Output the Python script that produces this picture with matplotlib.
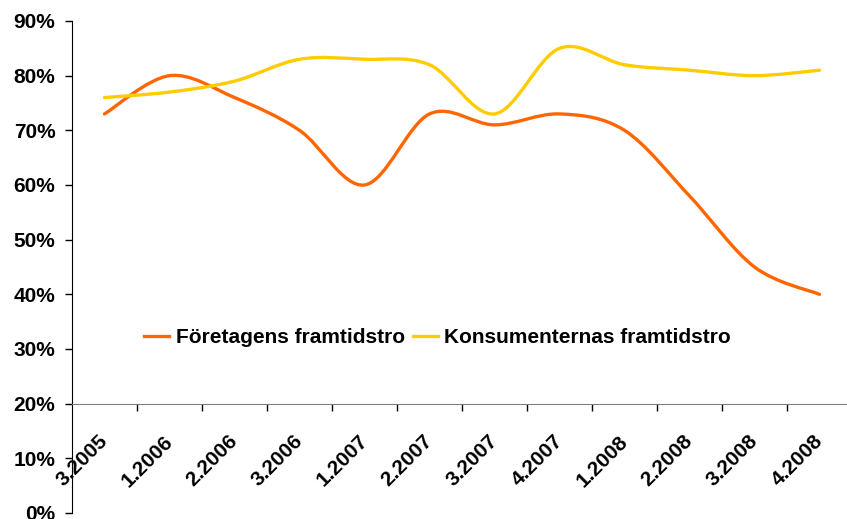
import matplotlib
matplotlib.use("Agg")
import matplotlib.pyplot as plt
from matplotlib.path import Path
from matplotlib.patches import PathPatch
from matplotlib.lines import Line2D

# quarters shown on the category axis
quarters = ["3.2005", "1.2006", "2.2006", "3.2006", "1.2007", "2.2007",
            "3.2007", "4.2007", "1.2008", "2.2008", "3.2008", "4.2008"]
# confidence in the future [share]
foretag = [0.73, 0.80, 0.76, 0.70, 0.60, 0.73, 0.71, 0.73, 0.70, 0.58, 0.45, 0.40]
konsument = [0.76, 0.77, 0.79, 0.83, 0.83, 0.82, 0.73, 0.85, 0.82, 0.81, 0.80, 0.81]
yticks = [0, 0.1, 0.2, 0.3, 0.4, 0.5, 0.6, 0.7, 0.8, 0.9]

orange = "#FF6600"
yellow = "#FFCC00"
plt.rcParams["font.family"] = ["Liberation Sans", "DejaVu Sans"]
plt.rcParams["font.weight"] = "bold"


def smooth_path(xs, ys):
    # Excel-like smoothed line: Catmull-Rom segments as cubic Bezier curves
    pts = list(zip(xs, ys))
    n = len(pts)
    verts = [pts[0]]
    codes = [Path.MOVETO]
    for i in range(n - 1):
        p0 = pts[max(i - 1, 0)]
        p1 = pts[i]
        p2 = pts[i + 1]
        p3 = pts[min(i + 2, n - 1)]
        c1 = (p1[0] + (p2[0] - p0[0]) / 6, p1[1] + (p2[1] - p0[1]) / 6)
        c2 = (p2[0] - (p3[0] - p1[0]) / 6, p2[1] - (p3[1] - p1[1]) / 6)
        verts += [c1, c2, p2]
        codes += [Path.CURVE4] * 3
    return Path(verts, codes)


fig = plt.figure(figsize=(8.47, 5.19), dpi=100)
ax = fig.add_axes([72 / 847, 6 / 519, 780 / 847, 492 / 519])

x = list(range(len(quarters)))
for vals, col in [(foretag, orange), (konsument, yellow)]:
    ax.add_patch(PathPatch(smooth_path(x, vals), facecolor="none",
                           edgecolor=col, lw=2.4, capstyle="round"))

ax.set_xlim(-0.5, len(quarters) - 0.5)
ax.set_ylim(0, 0.9)

ax.spines["top"].set_visible(False)
ax.spines["right"].set_visible(False)
ax.spines["left"].set_color("black")
ax.spines["bottom"].set_position(("data", 0.2))
ax.spines["bottom"].set_color("#808080")

ax.set_yticks(yticks)
ax.set_yticklabels(["{:.0f}%".format(v * 100) for v in yticks])
ax.tick_params(axis="y", direction="out", length=5, width=1, labelsize=15, pad=7)

ax.set_xticks(x)
ax.set_xticklabels(quarters)
ax.set_xticks([i + 0.5 for i in x[:-1]], minor=True)
ax.tick_params(axis="x", which="major", length=0, labelsize=15, pad=25)
ax.tick_params(axis="x", which="minor", direction="out", length=5, width=1, color="black")
for lab in ax.get_xticklabels():
    lab.set_rotation(45)
    lab.set_ha("right")
    lab.set_va("center")
    lab.set_rotation_mode("anchor")

handles = [Line2D([], [], color=orange, lw=2.4),
           Line2D([], [], color=yellow, lw=2.4)]
ax.legend(handles, ["Företagens framtidstro", "Konsumenternas framtidstro"],
          loc="center", bbox_to_anchor=(0.469, 0.356), ncol=2, frameon=False,
          fontsize=15, handlelength=1.2, handletextpad=0.3, columnspacing=0.4)

fig.savefig("out.png", dpi=100)
